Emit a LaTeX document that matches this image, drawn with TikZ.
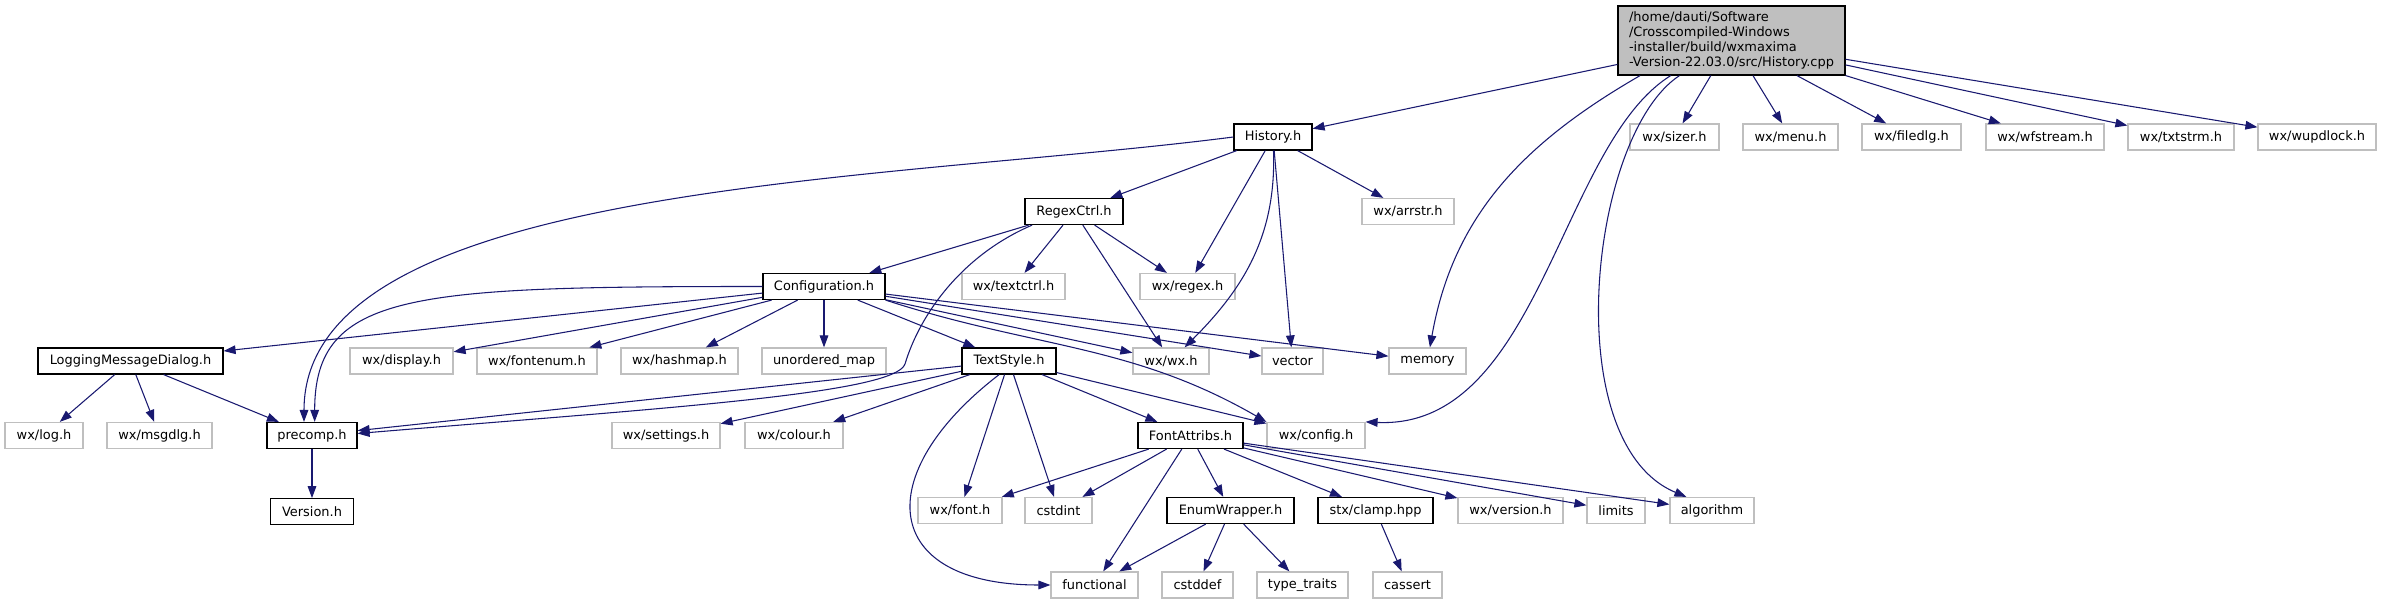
\documentclass[tikz,border=0pt]{standalone}
\usepackage{fontspec}
\setmainfont{DejaVu Sans}
\usetikzlibrary{positioning,arrows.meta}
\definecolor{edgeblue}{HTML}{191970}
\definecolor{grey75}{HTML}{BFBFBF}
\tikzset{
 hdr/.style={draw=black, line width=0.9pt, fill=white, minimum height=19.5pt, inner sep=0pt, font=\fontsize{9.7}{11.25}\selectfont},
 sys/.style={hdr, draw=grey75},
 wd/.style={minimum width=#1*0.75pt},
 inc/.style={-{Triangle[length=9pt,width=6.5pt]}, draw=edgeblue, line width=0.8pt}
}

\begin{document}
\begin{tikzpicture}[x=0.75pt, y=0.75pt]
 \useasboundingbox (0,0) rectangle (2382,604);

 \node (cpp) [hdr, fill=grey75, wd=227, minimum height=51.75pt, align=left] at (1731.5,563.5) {/home/dauti/Software\\/Crosscompiled-Windows\\-installer/build/wxmaxima\\-Version-22.03.0/src/History.cpp};

 \node (hist) [hdr, wd=78] at (1273,467) {History.h};
 \node (sizer) [sys, wd=89] at (1674.5,467) {wx/sizer.h};
 \node (menu) [sys, wd=95] at (1790.5,467) {wx/menu.h};
 \node (filedlg) [sys, wd=99] at (1911.5,467) {wx/filedlg.h};
 \node (wfstream) [sys, wd=118] at (2045,467) {wx/wfstream.h};
 \node (txtstrm) [sys, wd=106] at (2181,467) {wx/txtstrm.h};
 \node (wupdlock) [sys, wd=118] at (2317,467) {wx/wupdlock.h};

 \node (regexctrl) [hdr, wd=98] at (1074,392.5) {RegexCtrl.h};
 \node (arrstr) [sys, wd=92] at (1408,392.5) {wx/arrstr.h};

 \node (config) [hdr, wd=122] at (824,317.5) {Configuration.h};
 \node (textctrl) [sys, wd=103] at (1013.5,317.5) {wx/textctrl.h};
 \node (regex) [sys, wd=95] at (1187.5,317.5) {wx/regex.h};

 \node (logdlg) [hdr, wd=185] at (130.5,243) {LoggingMessageDialog.h};
 \node (display) [sys, wd=103] at (401.5,243) {wx/display.h};
 \node (fontenum) [sys, wd=120] at (537,243) {wx/fontenum.h};
 \node (hashmap) [sys, wd=117] at (679.5,243) {wx/hashmap.h};
 \node (umap) [sys, wd=124] at (824,243) {unordered\_map};
 \node (textstyle) [hdr, wd=94] at (1009,243) {TextStyle.h};
 \node (wxwx) [sys, wd=76] at (1171,243) {wx/wx.h};
 \node (vector) [sys, wd=61] at (1292.5,243) {vector};
 \node (memory) [sys, wd=77] at (1427.5,243) {memory};

 \node (log) [sys, wd=78] at (44,168.5) {wx/log.h};
 \node (msgdlg) [sys, wd=105] at (159.5,168.5) {wx/msgdlg.h};
 \node (precomp) [hdr, wd=90] at (312,168.5) {precomp.h};
 \node (settings) [sys, wd=108] at (666,168.5) {wx/settings.h};
 \node (colour) [sys, wd=98] at (794,168.5) {wx/colour.h};
 \node (fontattr) [hdr, wd=105] at (1190.5,168.5) {FontAttribs.h};
 \node (wxconfig) [sys, wd=98] at (1316,168.5) {wx/config.h};

 \node (version) [hdr, wd=83, below=36.75pt of precomp] {Version.h};
 \node (font) [sys, wd=84] at (960,93.5) {wx/font.h};
 \node (cstdint) [sys, wd=67] at (1058.5,93.5) {cstdint};
 \node (enumw) [hdr, wd=127] at (1230.5,93.5) {EnumWrapper.h};
 \node (clamp) [hdr, wd=115] at (1375.5,93.5) {stx/clamp.hpp};
 \node (wxversion) [sys, wd=105] at (1510.5,93.5) {wx/version.h};
 \node (limits) [sys, wd=58] at (1616,93.5) {limits};
 \node (algorithm) [sys, wd=84] at (1712,93.5) {algorithm};

 \node (functional) [sys, wd=87] at (1094.5,19) {functional};
 \node (cstddef) [sys, wd=71] at (1197.5,19) {cstddef};
 \node (typetraits) [sys, wd=91] at (1302.5,19) {type\_traits};
 \node (cassert) [sys, wd=69] at (1407.5,19) {cassert};

 \draw[inc] (cpp) -- (hist);
 \draw[inc] (cpp) -- (sizer);
 \draw[inc] (cpp) -- (menu);
 \draw[inc] (cpp) -- (filedlg);
 \draw[inc] (cpp) -- (wfstream);
 \draw[inc] (cpp) -- (txtstrm);
 \draw[inc] (cpp) -- (wupdlock);
 \draw[inc] (cpp.-159) to[out=-150, in=80] (memory);
 \draw[inc] (cpp.-150) .. controls +(-111,-69) and +(174,-8) .. (wxconfig.north east);
 \draw[inc] (cpp.-146) .. controls +(-90,-59) and +(-130,54) .. (algorithm.152);

 \draw[inc] (hist) -- (regexctrl);
 \draw[inc] (hist) -- (regex);
 \draw[inc] (hist) -- (vector);
 \draw[inc] (hist) -- (arrstr);
 \draw[inc] (hist) to[out=-88, in=45] (wxwx);
 \draw[inc] (hist.west) .. controls +(-350,-45) and +(0,240) .. ([xshift=-6pt]precomp.north);

 \draw[inc] (regexctrl) -- (config);
 \draw[inc] (regexctrl) -- (textctrl);
 \draw[inc] (regexctrl) -- (wxwx);
 \draw[inc] (regexctrl) -- (regex);
 \draw[inc] (regexctrl.-162) .. controls +(-70,-30) and +(15,50) .. (905,240) .. controls +(-10,-30) and +(300,25) .. ([yshift=1.5pt]precomp.east);

 \draw[inc] (config) -- (logdlg);
 \draw[inc] (config) -- (display);
 \draw[inc] (config) -- (fontenum);
 \draw[inc] (config) -- (hashmap);
 \draw[inc] (config) -- (umap);
 \draw[inc] (config) -- (textstyle);
 \draw[inc] (config) -- (wxwx);
 \draw[inc] (config) -- (vector);
 \draw[inc] (config) -- (memory);
 \draw[inc] (config.west) .. controls +(-350,0) and +(0,130) .. ([xshift=2pt]precomp.north);
 \draw[inc] (config.south east) to[out=-18, in=150] (wxconfig.north west);

 \draw[inc] (logdlg) -- (log);
 \draw[inc] (logdlg) -- (msgdlg);
 \draw[inc] (logdlg) -- (precomp);
 \draw[inc] (precomp) -- (version);

 \draw[inc] (textstyle) -- (precomp);
 \draw[inc] (textstyle) -- (settings);
 \draw[inc] (textstyle) -- (colour);
 \draw[inc] (textstyle) -- (font);
 \draw[inc] (textstyle) -- (cstdint);
 \draw[inc] (textstyle) -- (fontattr);
 \draw[inc] (textstyle) -- (wxconfig);
 \draw[inc] (textstyle.-126) .. controls +(-130,-100) and +(-170,0) .. (functional.west);

 \draw[inc] (fontattr) -- (font);
 \draw[inc] (fontattr) -- (cstdint);
 \draw[inc] (fontattr) -- (functional);
 \draw[inc] (fontattr) -- (enumw);
 \draw[inc] (fontattr) -- (clamp);
 \draw[inc] (fontattr) -- (wxversion);
 \draw[inc] (fontattr) -- (limits);
 \draw[inc] (fontattr) -- (algorithm);

 \draw[inc] (enumw) -- (functional);
 \draw[inc] (enumw) -- (cstddef);
 \draw[inc] (enumw) -- (typetraits);
 \draw[inc] (clamp) -- (cassert);
\end{tikzpicture}
\end{document}
